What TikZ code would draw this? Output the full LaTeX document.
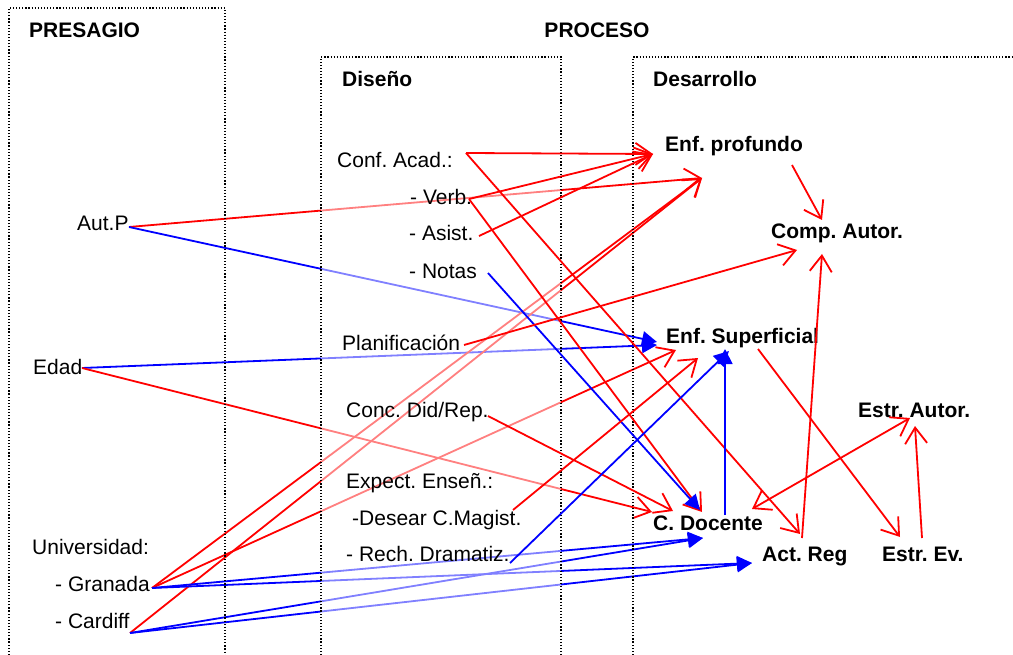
\documentclass[tikz,border=0pt]{standalone}
\usepackage{fontspec}
\setmainfont{Liberation Sans}
\usetikzlibrary{arrows.meta}
\pgfdeclarelayer{behind}
\pgfdeclarelayer{veil}
\pgfsetlayers{behind,veil,main}
\frenchspacing
\begin{document}
\begin{tikzpicture}[x=1pt,y=-1pt,
  rl/.style={draw=red, line width=1.8pt, -{Straight Barb[length=16pt,width=22pt]}},
  rlboth/.style={draw=red, line width=1.8pt, {Straight Barb[length=16pt,width=22pt]}-{Straight Barb[length=16pt,width=22pt]}},
  bl/.style={draw=blue, line width=1.8pt, -{Triangle[length=15pt,width=15pt]}},
  lbl/.style={font=\fontsize{21}{25}\selectfont, inner sep=0pt, anchor=base west},
  hdr/.style={lbl, font=\fontsize{21}{25}\selectfont\bfseries},
  frame/.style={line width=1.3pt, dash pattern=on 1.2pt off 1.9pt, black}]
\useasboundingbox (0,0) rectangle (1013,655);

% column frames
\draw[frame] (9,655) -- (9,8) -- (225,8) -- (225,655);
\draw[frame] (321,655) -- (321,57) -- (561,57) -- (561,655);
\draw[frame] (633,655) -- (633,57) -- (1013,57);

% half-transparent fill of the design column
\begin{pgfonlayer}{veil}
  \fill[white, opacity=0.5] (321,57) rectangle (561,655);
\end{pgfonlayer}

% headings
\node[hdr] (presagio) at (29,38) {PRESAGIO};
\node[hdr, anchor=base] (proceso) at (597,38) {PROCESO};
\node[hdr] (diseno) at (342,86.7) {Diseño};
\node[hdr] (desarrollo) at (653,86.7) {Desarrollo};

% presage variables
\node[lbl] (autp) at (77,230.7) {Aut.P};
\node[lbl] (edad) at (33,374) {Edad};
\node[lbl] (univ) at (32,554) {Universidad:};
\node[lbl] (granada) at (55,591.7) {- Granada};
\node[lbl] (cardiff) at (55,628) {- Cardiff};

% design variables
\node[lbl] (conf) at (337,168) {Conf. Acad.:};
\node[lbl] (verb) at (410,205) {- Verb.};
\node[lbl] (asist) at (409,241) {- Asist.};
\node[lbl] (notas) at (409,279) {- Notas};
\node[lbl] (plan) at (342,351) {Planificación};
\node[lbl] (conc) at (346,417) {Conc. Did/Rep.};
\node[lbl] (expect) at (346,488) {Expect. Enseñ.:};
\node[lbl] (desear) at (352,525) {-Desear C.Magist.};
\node[lbl] (rech) at (346,561.7) {- Rech. Dramatiz.};

% development variables
\node[hdr] (enfprof) at (665,152) {Enf. profundo};
\node[hdr] (compaut) at (771,238.5) {Comp. Autor.};
\node[hdr] (enfsup) at (666,343.7) {Enf. Superficial};
\node[hdr] (estraut) at (858,417) {Estr. Autor.};
\node[hdr] (cdoc) at (653,530) {C. Docente};
\node[hdr] (actreg) at (762,561.7) {Act. Reg};
\node[hdr] (estrev) at (882,561) {Estr. Ev.};

% connector ports
\coordinate (autp-o) at (129,227);
\coordinate (edad-o) at (82,368);
\coordinate (gran-o) at (152,588);
\coordinate (card-o) at (130,633);
\coordinate (conf-o) at (466,153);
\coordinate (verb-o) at (469,199);
\coordinate (asist-o) at (479,236);
\coordinate (notas-o) at (488,273);
\coordinate (plan-o) at (464,345);
\coordinate (conc-o) at (488,416);
\coordinate (desear-o) at (513,510);
\coordinate (rech-o) at (510,563);
\coordinate (ep-in1) at (653,154);
\coordinate (ep-in2) at (702,178);
\coordinate (ep-o) at (792,165);
\coordinate (ca-in1) at (822,220);
\coordinate (ca-in2) at (797,250);
\coordinate (ca-in3) at (822,254);
\coordinate (es-in1) at (657,342);
\coordinate (es-in1b) at (657,345);
\coordinate (es-in2) at (676,350);
\coordinate (es-in3) at (698,358);
\coordinate (es-in4) at (729,351);
\coordinate (es-in5) at (725,349);
\coordinate (es-o) at (758,349);
\coordinate (cd-in1) at (652,512);
\coordinate (cd-in2) at (673,511);
\coordinate (cd-in3) at (702,512);
\coordinate (cd-in3b) at (700,510);
\coordinate (cd-in4) at (703,538);
\coordinate (cd-o) at (725,515);
\coordinate (cd-dbl) at (752,509);
\coordinate (ar-in1) at (800,534);
\coordinate (ar-in2) at (752,563);
\coordinate (ar-o) at (802,538);
\coordinate (ee-in) at (900,537);
\coordinate (ee-o) at (922,538);
\coordinate (ea-in1) at (910,418);
\coordinate (ea-in2) at (915,426);

% links starting in the presage column, seen through the design column
\begin{pgfonlayer}{behind}
  \draw[rl] (autp-o) -- (ep-in2);
  \draw[bl] (autp-o) -- (es-in1);
  \draw[bl] (edad-o) -- (es-in1b);
  \draw[rl] (edad-o) -- (cd-in1);
  \draw[rl] (gran-o) -- (ep-in2);
  \draw[rl] (gran-o) -- (es-in2);
  \draw[rl] (card-o) -- (ep-in2);
  \draw[bl] (gran-o) -- (cd-in4);
  \draw[bl] (gran-o) -- (ar-in2);
  \draw[bl] (card-o) -- (cd-in4);
  \draw[bl] (card-o) -- (ar-in2);
\end{pgfonlayer}

% links from design variables
\draw[rl] (conf-o) -- (ep-in1);
\draw[rl] (conf-o) -- (ar-in1);
\draw[rl] (verb-o) -- (ep-in1);
\draw[rl] (verb-o) -- (cd-in3);
\draw[rl] (asist-o) -- (ep-in1);
\draw[bl] (notas-o) -- (cd-in3b);
\draw[rl] (plan-o) -- (ca-in2);
\draw[rl] (conc-o) -- (cd-in2);
\draw[rl] (desear-o) -- (es-in3);
\draw[bl] (rech-o) -- (es-in4);

% links among development variables
\draw[rl] (ep-o) -- (ca-in1);
\draw[rl] (ar-o) -- (ca-in3);
\draw[bl] (cd-o) -- (es-in5);
\draw[rl] (es-o) -- (ee-in);
\draw[rl] (ee-o) -- (ea-in2);
\draw[rlboth] (cd-dbl) -- (ea-in1);
\end{tikzpicture}
\end{document}
